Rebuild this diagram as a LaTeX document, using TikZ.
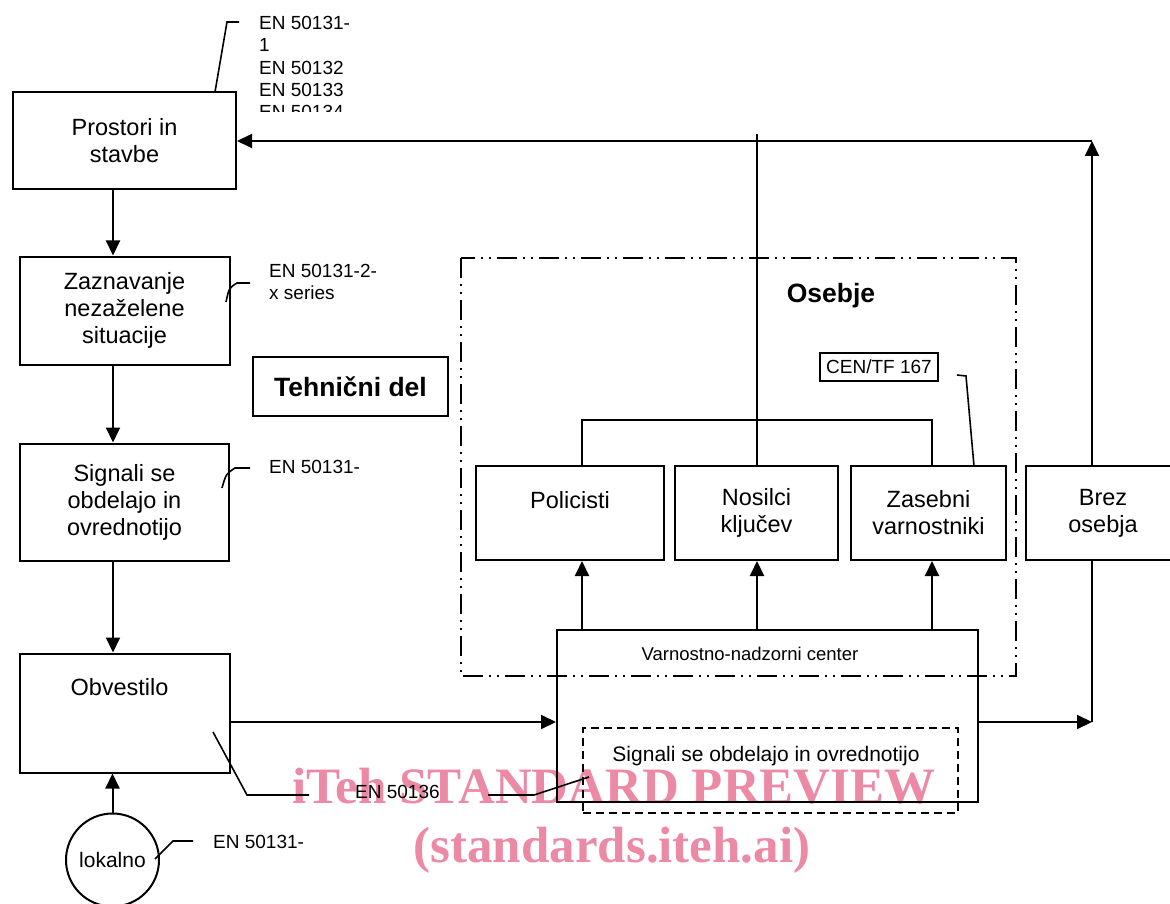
\documentclass[tikz,border=0pt]{standalone}
\usepackage{fontspec}
\setmainfont{Liberation Sans}
\newfontfamily\wmfont{Liberation Serif}
\usetikzlibrary{arrows.meta, positioning}
\definecolor{wmpink}{RGB}{236,138,166}

\begin{document}
\begin{tikzpicture}[
  x=1pt, y=-1pt,
  box/.style={rectangle, draw, line width=2pt, align=center, inner sep=0pt,
              font=\fontsize{23.5}{27}\selectfont},
  ref/.style={anchor=north west, align=left, inner sep=0pt,
              font=\fontsize{19}{22.3}\selectfont},
  wm/.style={anchor=base, inner sep=0pt, text=wmpink,
             font=\wmfont\bfseries\fontsize{51}{55}\selectfont},
  conn/.style={line width=2pt},
  edge/.style={conn, -{Triangle[length=15pt, width=14pt]}},
  lead/.style={line width=1.6pt},
  frame/.style={line width=2pt, dash pattern=on 20pt off 6pt on 2pt off 6pt on 2pt off 6pt},
]
  \path[use as bounding box, fill=white] (0,0) rectangle (1170,904);

  % watermark
  \node[wm] (wm1) at (614,803) {iTeh STANDARD PREVIEW};
  \node[wm] (wm2) at (612,862) {(standards.iteh.ai)};

  % left column
  \node[box, minimum width=223pt, minimum height=97pt] (pro) at (124.5,141) {Prostori in\\stavbe};
  \node[box, minimum width=210pt, minimum height=108pt, below=65pt of pro] (zaz) {Zaznavanje\\nezaželene\\situacije};
  \node[box, minimum width=209pt, minimum height=117pt, below=77pt of zaz] (sig) {Signali se\\obdelajo in\\ovrednotijo};
  \node[box, minimum width=210pt, minimum height=119pt, below=91pt of sig] (obv) {};
  \node[font=\fontsize{23.5}{27}\selectfont] (obvtext) at ([xshift=-5pt, yshift=-35pt]obv.north) {Obvestilo};
  \node[circle, draw, line width=2pt, minimum size=93pt, inner sep=0pt,
        font=\fontsize{21}{25}\selectfont] (lok) at (112.5,860) {lokalno};
  \node[box, line width=1.5pt, minimum width=195pt, minimum height=59pt,
        font=\bfseries\fontsize{26.5}{30}\selectfont] (teh) at (350.5,386.5) {Tehnični del};

  % personnel
  \draw[frame] (461,258) rectangle (1016,676);
  \node[font=\bfseries\fontsize{26.5}{30}\selectfont] (oseb) at (831,296) {Osebje};
  \node[draw, line width=1.5pt, inner sep=0pt, minimum width=118pt, minimum height=28pt,
        font=\fontsize{19}{22}\selectfont] (cen) at (879,367) {CEN/TF 167};
  \node[box, minimum width=188pt, minimum height=94pt] (pol) at (570,513) {Policisti\\\mbox{}};
  \node[box, minimum width=163pt, minimum height=94pt, right=9pt of pol] (nos) {Nosilci\\ključev};
  \node[box, minimum width=155pt, minimum height=94pt, right=11pt of nos] (zas) {Zasebni\\varnostniki};
  \node[box, minimum width=154pt, minimum height=94pt, right=18pt of zas] (brez) {Brez\\osebja};

  % monitoring centre
  \node[box, minimum width=421pt, minimum height=172pt] (vnc) at (767.5,716) {};
  \node[font=\fontsize{18.5}{22}\selectfont] (vnctext) at (750,654) {Varnostno-nadzorni center};
  \node[draw, line width=2pt, dash pattern=on 8pt off 5pt, minimum width=375pt,
        minimum height=85pt] (obd) at (770.5,770.5) {};
  \node[font=\fontsize{21}{25}\selectfont] (obdtext) at (766,756) {Signali se obdelajo in ovrednotijo};

  % standards
  \begin{scope}
    \clip (250,0) rectangle (420,112);
    \node[ref] (en1) at (259,16) {EN 50131-\\1\\EN 50132\\EN 50133\\EN 50134};
  \end{scope}
  \node[ref] (en2) at (269,264) {EN 50131-2-\\x series};
  \node[ref] (en3) at (269,460) {EN 50131-};
  \node[ref] (en4) at (213,835) {EN 50131-};
  \node[ref] (en5) at (355,785) {EN 50136};

  \coordinate (col) at (113,0);
  \coordinate (tr) at (1092,141);
  \coordinate (br) at (1092,722);
  \coordinate (bl) at (582,420);
  \coordinate (brk) at (932,420);
  \coordinate (top) at (757,134);

  \draw[edge] (pro.south -| col) -- (zaz.north -| col);
  \draw[edge] (zaz.south -| col) -- (sig.north -| col);
  \draw[edge] (sig.south -| col) -- (obv.north -| col);
  \draw[edge] (lok.north) -- (obv.south -| lok.north);
  \draw[edge] (obv.east |- br) -- (vnc.west |- br);
  \draw[edge] (vnc.east |- br) -- (br);
  \draw[conn] (brez.south -| br) -- (br);
  \draw[edge] (brez.north -| tr) -- (tr);
  \draw[edge] (tr) -- (pro.east);
  \draw[conn] (nos.north -| top) -- (top);
  \draw[conn] (pol.north -| bl) -- (bl) -- (brk) -- (zas.north -| brk);
  \draw[edge] (vnc.north -| bl) -- (pol.south -| bl);
  \draw[edge] (vnc.north -| top) -- (nos.south -| top);
  \draw[edge] (vnc.north -| brk) -- (zas.south -| brk);

  % leaders
  \draw[lead] (215,92) -- (227,22) -- (239,22);
  \draw[lead] (226,302) .. controls (229,288) .. (237,283) -- (250,283);
  \draw[lead] (222,488) .. controls (226,474) .. (235,468) -- (250,468);
  \draw[lead] (155,859) -- (173,841) -- (193,841);
  \draw[lead] (213,732) -- (247,795) -- (309,795);
  \draw[lead] (488,795) -- (534,795) -- (589,777);
  \draw[lead] (957,375) -- (966,376) -- (974,466);
\end{tikzpicture}
\end{document}
